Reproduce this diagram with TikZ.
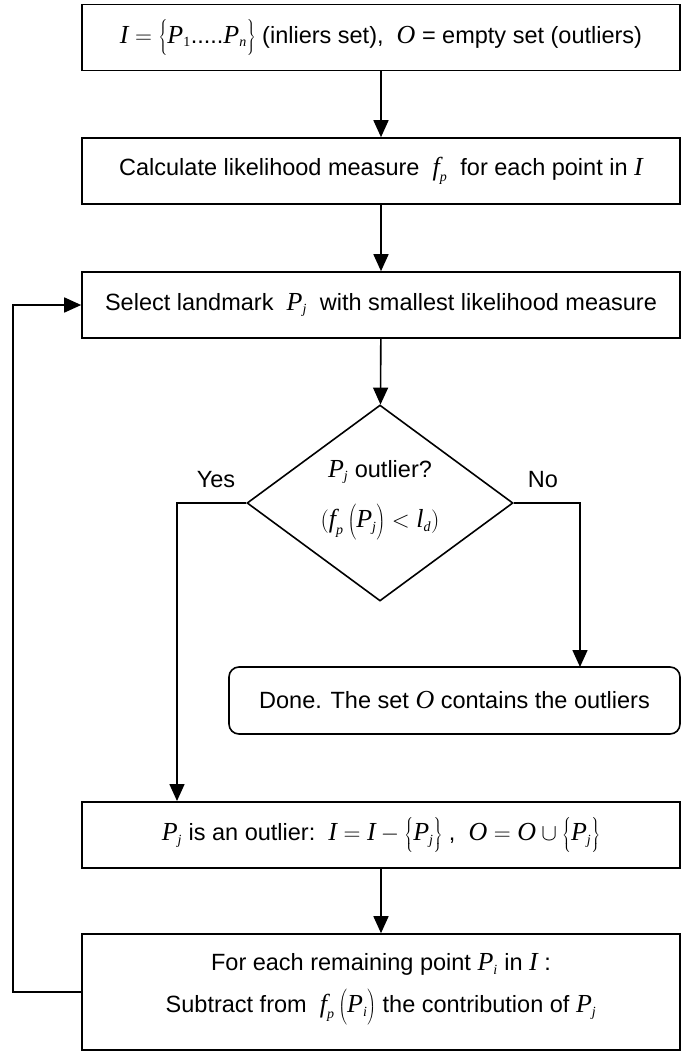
\RequirePackage{fix-cm}
\documentclass[tikz,border=0pt]{standalone}
\usepackage{fontspec}
\setmainfont{Liberation Sans}
\newfontfamily\tms{Liberation Serif}
\usetikzlibrary{shapes.geometric,arrows.meta}

% body text and serif-italic math letters
\newcommand\txt{\fontsize{23.5bp}{42bp}\selectfont}
\newcommand\mi[1]{\mbox{\fontsize{26bp}{26bp}\selectfont\tms\itshape #1}}
\newcommand\ms[1]{\mbox{\fontsize{14bp}{14bp}\selectfont\tms\itshape #1}}
\newcommand\mr[1]{\mbox{\fontsize{14bp}{14bp}\selectfont\tms #1}}
% tall delimiters around a set or an argument
\newcommand\brc[1]{\left\{\vrule height 23bp depth 11bp width 0pt #1\right\}}
\newcommand\prn[1]{\left(\vrule height 23bp depth 11bp width 0pt #1\right)}

\tikzset{
  flow/.style={line width=1.6bp},
  arr/.style={flow,-{Triangle[width=15bp,length=17bp]}},
  procbox/.style={draw,line width=1.6bp,minimum width=598bp,minimum height=66bp,
    inner sep=0pt,font=\txt,align=center},
  endbox/.style={procbox,rounded corners=10bp,minimum width=451bp,minimum height=67bp},
  decision/.style={draw,diamond,line width=1.6bp,minimum width=266bp,
    minimum height=196bp,inner sep=0pt},
  lbl/.style={font=\txt,inner sep=0pt}
}

\begin{document}
\begin{tikzpicture}[x=1bp,y=-1bp]
\useasboundingbox (0,0) rectangle (700,1052);

\node[procbox] (init) at (381,37.5)
  {$\mi{I} = \brc{\mi{P}_{\mr{1}}\mbox{.....}\mi{P}_{\ms{n}}}$ (inliers set),\ \ $\mi{O}$ = empty set (outliers)};
\node[procbox] (calc) at (381,171)
  {Calculate likelihood measure\ \ $\mi{f}_{\ms{p}}$\ \ for each point in $\mi{I}$};
\node[procbox] (select) at (381,305)
  {Select landmark\ \ $\mi{P}_{\ms{j}}$\ \ with smallest likelihood measure};

\node[decision] (dec) at (380,503) {};
\node[lbl] (q1) at (380,472) {$\mi{P}_{\ms{j}}$\ outlier?};
\node[lbl] (q2) at (380,522) {$(\mi{f}_{\ms{p}}\prn{\mi{P}_{\ms{j}}} < \mi{l}_{\ms{d}})$};

\node[lbl] (yes) at (216,480) {Yes};
\node[lbl] (no) at (543,480) {No};

\node[endbox] (done) at (454.5,700.5)
  {Done. The set\ $\mi{O}$\ contains the outliers};

\node[procbox] (move) at (381,835)
  {$\mi{P}_{\ms{j}}$\ is an outlier:\ \ $\mi{I} = \mi{I} - \brc{\mi{P}_{\ms{j}}}$ ,\ \ $\mi{O} = \mi{O} \cup \brc{\mi{P}_{\ms{j}}}$};

\node[procbox,minimum height=116bp] (update) at (381,992)
  {For each remaining point\ $\mi{P}_{\ms{i}}$\ in\ $\mi{I}$ :\\
   Subtract from\ \ $\mi{f}_{\ms{p}}\prn{\mi{P}_{\ms{i}}}$ the contribution of\ $\mi{P}_{\ms{j}}$\\[-24bp]\mbox{}};

% branch drop points
\coordinate (yesdrop) at (177,801);
\coordinate (nodrop) at (580,667);

\draw[arr] (init) -- (calc);
\draw[arr] (calc) -- (select);
\draw[arr] (select) -- (dec);
\draw[arr] (dec.west) -| (yesdrop);
\draw[arr] (dec.east) -| (nodrop);
\draw[arr] (move) -- (update);
\draw[arr] (update.west) -- ++(-68,0) |- (select.west);
\end{tikzpicture}
\end{document}
